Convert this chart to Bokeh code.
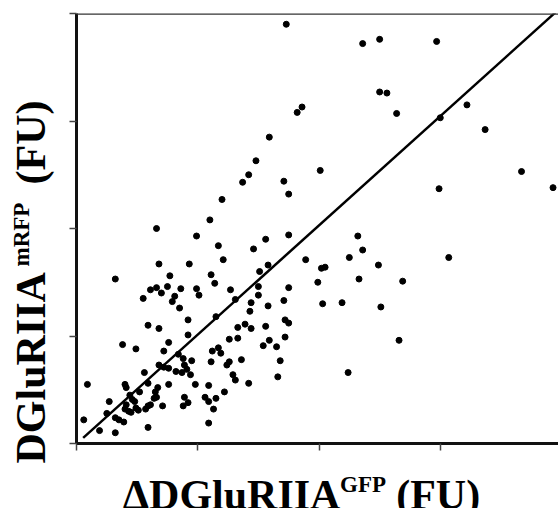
import math
from bokeh.plotting import figure
from bokeh.layouts import row, column
from bokeh.models import Range1d, FixedTicker, Span, ColumnDataSource
from bokeh.core.properties import value
from bokeh.embed import file_html
from bokeh.resources import INLINE

# ---- data (fluorescence units) ----
gfp_fu = [1.73, 2.36, 2.50, 2.97, 2.50, 2.56, 1.86, 1.82, 2.64, 3.22, 3.00, 3.37, 2.01, 1.71, 1.75,
          2.99, 3.67, 3.93, 3.07, 2.69, 2.66, 1.59, 1.48, 1.42, 1.37, 1.20, 1.10, 2.32, 2.36, 2.25,
          2.49, 2.05, 2.02, 1.99, 2.33, 2.03, 2.19, 2.51, 2.24, 0.99, 1.17, 1.56, 1.75, 1.46, 1.21,
          1.89, 1.58, 1.51, 1.11, 1.14, 1.50, 1.75, 0.99, 1.01, 1.27, 1.50, 1.31, 1.44, 1.71, 1.58,
          1.43, 1.72, 1.75, 1.15, 1.33, 1.39, 1.44, 1.56, 0.66, 0.68, 0.93, 0.32, 0.77, 0.61, 0.66,
          0.75, 0.70, 0.86, 0.55, 0.81, 0.79, 0.85, 0.92, 0.59, 0.68, 0.92, 0.38, 0.49, 0.76, 0.72,
          0.84, 0.88, 0.95, 0.68, 0.72, 0.76, 0.89, 0.91, 0.82, 0.87, 0.94, 0.56, 0.09, 0.40, 0.41,
          0.59, 0.76, 0.98, 0.52, 0.44, 0.67, 0.65, 0.66, 0.46, 0.48, 0.64, 0.27, 0.41, 0.59, 0.61,
          0.71, 0.49, 0.89, 0.92, 0.88, 0.40, 0.43, 0.45, 0.51, 0.57, 0.25, 0.32, 0.35, 0.39, 0.06,
          0.19, 0.32, 0.59, 1.26, 1.33, 1.12, 1.17, 1.19, 1.11, 1.26, 1.24, 1.36, 1.54, 1.59, 1.65,
          1.72, 1.68, 1.66, 1.29, 1.31, 1.42, 1.09, 1.22, 1.06, 1.09, 1.15, 1.13, 1.09]
mrfp_fu = [3.90, 3.72, 3.76, 3.74, 3.27, 3.26, 3.13, 3.08, 3.07, 3.15, 3.03, 2.92, 2.54, 2.44, 2.32,
           2.37, 2.53, 2.38, 1.73, 1.51, 0.96, 2.85, 2.63, 2.50, 2.43, 2.27, 2.08, 1.93, 1.80, 1.73,
           1.66, 1.64, 1.63, 1.50, 1.53, 1.30, 1.31, 1.27, 0.66, 1.93, 1.84, 1.90, 1.94, 1.81, 1.71,
           1.71, 1.66, 1.60, 1.57, 1.49, 1.46, 1.45, 1.44, 1.38, 1.43, 1.38, 1.34, 1.31, 1.33, 1.28,
           1.23, 1.15, 1.12, 1.18, 1.08, 1.11, 1.07, 1.09, 2.00, 1.67, 1.67, 1.53, 1.56, 1.43, 1.45,
           1.46, 1.40, 1.44, 1.35, 1.37, 1.32, 1.26, 1.15, 1.10, 1.07, 1.01, 0.92, 0.88, 0.94, 0.86,
           0.83, 0.79, 0.77, 0.73, 0.71, 0.70, 0.73, 0.69, 0.67, 0.66, 0.64, 0.66, 0.55, 0.55, 0.52,
           0.56, 0.55, 0.55, 0.48, 0.45, 0.52, 0.48, 0.43, 0.41, 0.39, 0.42, 0.39, 0.36, 0.35, 0.36,
           0.35, 0.33, 0.43, 0.38, 0.35, 0.32, 0.30, 0.29, 0.31, 0.32, 0.28, 0.24, 0.22, 0.20, 0.22,
           0.12, 0.10, 0.15, 0.97, 0.98, 0.86, 0.89, 0.84, 0.76, 0.76, 0.73, 0.78, 0.91, 0.96, 0.90,
           0.99, 0.77, 0.62, 0.64, 0.59, 0.56, 0.54, 0.48, 0.43, 0.39, 0.42, 0.32, 0.19]

fit_x = [0.055, 3.95]
fit_slope = 1.016
fit_intercept = -0.003
fit_y = [fit_slope * v + fit_intercept for v in fit_x]

tick_values = [0, 1, 2, 3, 4]

x_label_main = "ΔDGluRIIA"
x_label_sup = "GFP"
y_label_main = "DGluRIIA"
y_label_sup = "mRFP"
unit_label = "(FU)"

FONT = value("Liberation Serif")
BIG = value("42px")
SUP = value("23px")

# ---- main scatter figure ----
p = figure(width=490, height=451, output_backend="svg", toolbar_location=None,
           x_range=Range1d(0, 3.975), y_range=Range1d(0, 4.0),
           min_border_left=8, min_border_right=0, min_border_top=13, min_border_bottom=8)
p.background_fill_color = "white"
p.border_fill_color = "white"
p.outline_line_color = None
p.xgrid.visible = False
p.ygrid.visible = False

for ax in (p.xaxis[0], p.yaxis[0]):
    ax.ticker = FixedTicker(ticks=tick_values)
    ax.major_label_text_font_size = "0px"
    ax.major_label_text_color = None
    ax.major_label_standoff = 0
    ax.minor_tick_line_color = None
    ax.major_tick_in = 0
    ax.major_tick_out = 7
    ax.major_tick_line_color = "#444444"
    ax.major_tick_line_width = 1.5
    ax.axis_line_color = "#111111"
    ax.axis_line_width = 3

p.add_layout(Span(location=4.0, dimension="width", line_color="#333333", line_width=2.5))

src = ColumnDataSource(dict(x=gfp_fu, y=mrfp_fu))
p.scatter("x", "y", source=src, size=6, color="black")
p.line(fit_x, fit_y, line_color="black", line_width=2.5)


def blank_fig(w, h, xr, yr):
    f = figure(width=w, height=h, output_backend="svg", toolbar_location=None,
               x_range=Range1d(*xr), y_range=Range1d(*yr),
               x_axis_type=None, y_axis_type=None,
               min_border_left=0, min_border_right=0, min_border_top=0, min_border_bottom=0)
    f.outline_line_color = None
    f.background_fill_color = "white"
    f.border_fill_color = "white"
    return f


def put(f, x, y, text, size, angle=0.0):
    f.text(x=[x], y=[y], text=[text], angle=angle, text_font=FONT, text_font_style="bold",
           text_font_size=size, text_color="black", text_align="left", text_baseline="middle")


# ---- y-axis title panel (pixel-like coordinates, y up) ----
yl = blank_fig(68, 508, (0, 68), (0, 508))
put(yl, 30, 45, y_label_main, BIG, math.pi / 2)
put(yl, 21, 242, y_label_sup, SUP, math.pi / 2)
put(yl, 30, 324, unit_label, BIG, math.pi / 2)

# ---- x-axis title panel ----
xl = blank_fig(490, 57, (68, 558), (0, 57))
put(xl, 115, 14, x_label_main, BIG)
put(xl, 336, 24, x_label_sup, SUP)
put(xl, 393, 14, unit_label, BIG)

layout = row(yl, column(p, xl, spacing=0), spacing=0)

open("out.html", "w").write(file_html(layout, INLINE))
